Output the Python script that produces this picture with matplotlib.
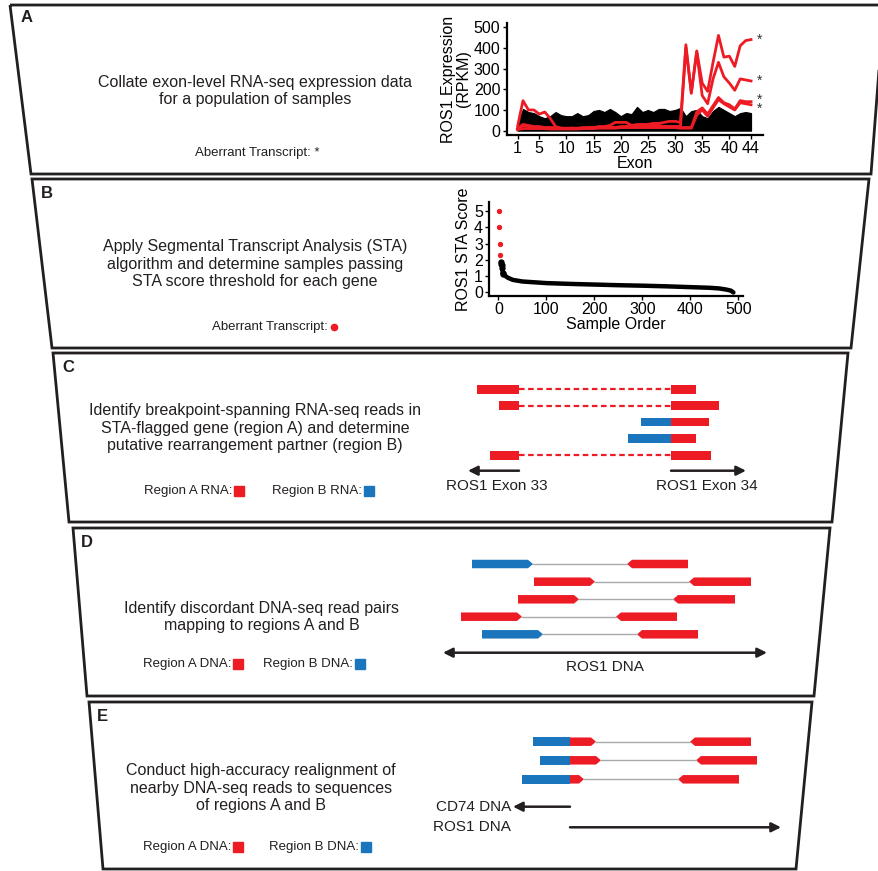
import matplotlib
matplotlib.use('Agg')
import matplotlib.pyplot as plt
from matplotlib.patches import Polygon, Rectangle

plt.rcParams['font.family'] = ['Liberation Sans', 'DejaVu Sans']

RED = '#ed1c24'
BLUE = '#1b75bc'
INK = '#231f20'
GREY = '#a7a9ac'

# ---- Panel A data: exon-level expression (RPKM) ----
exons = list(range(1, 45))
exon_ticks = [1, 5, 10, 15, 20, 25, 30, 35, 40, 44]
black_upper = [30, 105, 90, 85, 70, 60, 70, 90, 75, 70,
               70, 85, 70, 75, 95, 100, 90, 105, 90, 70,
               85, 80, 115, 90, 100, 90, 105, 105, 95, 100,
               110, 70, 95, 100, 70, 60, 95, 115, 100, 85,
               70, 85, 90, 85]
red_1 = [10, 30, 25, 20, 20, 15, 15, 15, 12, 12, 12, 12, 15, 15, 15, 20, 20, 25, 40, 40,
         40, 25, 30, 30, 30, 35, 35, 40, 45, 45, 40,
         415, 180, 385, 230, 190, 330, 460, 355, 360, 310, 410, 435, 440]
red_2 = [20, 145, 100, 100, 80, 90, 60, 20, 12, 10, 12, 10, 10, 12, 15, 15, 15, 15, 15, 15,
         20, 20, 20, 20, 25, 25, 20, 20, 20, 20, 20,
         400, 185, 380, 170, 130, 250, 330, 260, 230, 195, 250, 245, 240]
red_3 = [5, 25, 20, 15, 15, 15, 12, 10, 10, 10, 10, 10, 10, 12, 15, 15, 15, 15, 15, 20,
         20, 20, 20, 20, 25, 25, 25, 20, 20, 20, 15, 15, 15,
         90, 110, 80, 120, 160, 135, 125, 105, 145, 140, 140]
red_4 = [5, 10, 10, 10, 10, 10, 8, 8, 8, 8, 8, 8, 10, 10, 10, 12, 12, 12, 12, 15,
         15, 15, 15, 15, 15, 15, 15, 15, 15, 15, 12, 12, 12,
         75, 100, 70, 110, 150, 130, 115, 100, 135, 130, 125]
star_single_y = [440, 240]
star_pair_y = 128

# ---- Panel B data: STA score by sample order ----
flag_order = [1, 2, 3, 4]
flag_score = [5.0, 4.0, 3.0, 2.3]
rest_order = [5, 6, 7, 8, 9, 10, 15, 20, 30, 50, 75, 100, 150, 200, 250, 300,
              350, 400, 440, 460, 475, 485, 490]
rest_score = [1.85, 1.75, 1.7, 1.5, 1.15, 1.1, 0.98, 0.88, 0.75, 0.65, 0.6, 0.55,
              0.5, 0.46, 0.42, 0.39, 0.35, 0.3, 0.26, 0.22, 0.15, 0.08, -0.03]

# ---- Panel C data: RNA reads (x in page px) ----
c_rows = [389.3, 405.7, 422.0, 438.7, 455.3]
c_left_start = [477, 499, None, None, 490]
c_blue_start = [None, None, 641, 628, None]
c_right_end = [696, 719, 709, 696, 711]
exon33_end = 519
exon34_start = 671

# ---- Panel D data: DNA read pairs ----
d_rows = [564.0, 581.7, 599.3, 616.7, 634.3]
d_first = [(472, 533), (534, 595), (518, 579), (461, 522), (482, 543)]
d_first_col = [BLUE, RED, RED, RED, BLUE]
d_second = [(627, 688), (689, 751), (673, 735), (616, 677), (637, 698)]

# ---- Panel E data: realigned reads ----
e_rows = [741.7, 760.3, 779.3]
e_blue_start = [533, 540, 522]
e_junction = 570
e_red_end = [596, 601, 584]
e_mate = [(690, 751), (696, 757), (678, 739)]

fig = plt.figure(figsize=(8.79, 8.71), dpi=100)
pg = fig.add_axes([0, 0, 1, 1])
pg.set_xlim(0, 879)
pg.set_ylim(871, 0)
pg.axis('off')

# funnel outlines
boxes = [
    (5, 174, 10, 31, 884, 871),
    (179, 348, 32, 52, 869, 851),
    (353, 522, 53, 69, 848, 832),
    (528, 696, 73, 87, 830, 814),
    (702, 869, 89, 103, 812, 796),
]
for top, bot, lt, lb, rt, rb in boxes:
    pg.add_patch(Polygon([(lt, top), (rt, top), (rb, bot), (lb, bot)], closed=True,
                         fill=False, edgecolor=INK, lw=2.0))

letters = [('A', 21, 17), ('B', 41, 193), ('C', 62, 367), ('D', 81, 542), ('E', 97, 716)]
for s, x, y in letters:
    pg.text(x, y, s, fontsize=12, fontweight='bold', ha='left', va='center', color=INK)

main_kw = dict(fontsize=11.5, ha='center', va='center', linespacing=1.2, color=INK)
pg.text(255, 91, 'Collate exon-level RNA-seq expression data\nfor a population of samples', **main_kw)
pg.text(255, 264, 'Apply Segmental Transcript Analysis (STA)\nalgorithm and determine samples passing\n'
        'STA score threshold for each gene', **main_kw)
pg.text(255, 428, 'Identify breakpoint-spanning RNA-seq reads in\nSTA-flagged gene (region A) and determine\n'
        'putative rearrangement partner (region B)', **main_kw)
pg.text(262, 617, 'Identify discordant DNA-seq read pairs\nmapping to regions A and B', **main_kw)
pg.text(261, 788, 'Conduct high-accuracy realignment of\nnearby DNA-seq reads to sequences\nof regions A and B', **main_kw)

small = dict(fontsize=9.5, va='center', color=INK)
pg.text(257, 153, 'Aberrant Transcript: *', ha='center', **small)
pg.text(328, 327, 'Aberrant Transcript:', ha='right', **small)
pg.plot([334], [327], 'o', color=RED, ms=4.5)


def legend_pair(y, sqa, sqb, kind):
    pg.text(sqa - 7, y, f'Region A {kind}:', ha='right', **small)
    pg.plot([sqa], [y], 's', color=RED, ms=7)
    pg.text(sqb - 7, y, f'Region B {kind}:', ha='right', **small)
    pg.plot([sqb], [y], 's', color=BLUE, ms=7)


legend_pair(491, 239, 369, 'RNA')
legend_pair(664, 238, 360, 'DNA')
legend_pair(847, 238, 366, 'DNA')

H = 8.5
TIP = 5


def bar(x0, x1, y, col):
    pg.add_patch(Rectangle((x0, y - H / 2), x1 - x0, H, color=col, lw=0))


def pointed(x0, x1, y, col, right=True):
    if right:
        pts = [(x0, y - H / 2), (x1 - TIP, y - H / 2), (x1, y), (x1 - TIP, y + H / 2), (x0, y + H / 2)]
    else:
        pts = [(x1, y - H / 2), (x0 + TIP, y - H / 2), (x0, y), (x0 + TIP, y + H / 2), (x1, y + H / 2)]
    pg.add_patch(Polygon(pts, closed=True, color=col, lw=0))


def arrow(x0, x1, y, style='-|>'):
    pg.annotate('', xy=(x1, y), xytext=(x0, y),
                arrowprops=dict(arrowstyle=style, color=INK, lw=1.8, mutation_scale=14,
                                shrinkA=0, shrinkB=0))


# Panel C
for y, ls, bs, re in zip(c_rows, c_left_start, c_blue_start, c_right_end):
    if ls is not None:
        bar(ls, exon33_end, y, RED)
        pg.plot([exon33_end, exon34_start], [y, y], color=RED, lw=1.6,
                linestyle=(0, (2.5, 1.6)), solid_capstyle='butt')
    if bs is not None:
        bar(bs, exon34_start, y, BLUE)
    bar(exon34_start, re, y, RED)
arrow(exon33_end, 468, 470.7)
arrow(exon34_start, 746, 470.7)
pg.text(497, 486, 'ROS1 Exon 33', fontsize=11, ha='center', va='center', color=INK)
pg.text(707, 486, 'ROS1 Exon 34', fontsize=11, ha='center', va='center', color=INK)

# Panel D
for y, (a0, a1), col, (b0, b1) in zip(d_rows, d_first, d_first_col, d_second):
    pg.plot([a1, b0], [y, y], color=GREY, lw=1.0)
    pointed(a0, a1, y, col, right=True)
    pointed(b0, b1, y, RED, right=False)
arrow(443, 767, 652.7, style='<|-|>')
pg.text(605, 667, 'ROS1 DNA', fontsize=11, ha='center', va='center', color=INK)

# Panel E
for y, bs, re, (m0, m1) in zip(e_rows, e_blue_start, e_red_end, e_mate):
    pg.plot([re, m0], [y, y], color=GREY, lw=1.0)
    bar(bs, e_junction, y, BLUE)
    pointed(e_junction, re, y, RED, right=True)
    pointed(m0, m1, y, RED, right=False)
arrow(e_junction, 513, 806.7)
arrow(e_junction, 781, 827.3)
pg.text(511, 806.7, 'CD74 DNA', fontsize=11, ha='right', va='center', color=INK)
pg.text(511, 827.3, 'ROS1 DNA', fontsize=11, ha='right', va='center', color=INK)


def classic(ax):
    for side in ('top', 'right'):
        ax.spines[side].set_visible(False)
    for side in ('left', 'bottom'):
        ax.spines[side].set_linewidth(1.6)
        ax.spines[side].set_color('black')
    ax.tick_params(length=3, width=1.0, labelsize=11.5, pad=1.5, colors='black')
    ax.patch.set_alpha(0)


# Panel A chart
axA = fig.add_axes([506.7 / 879, 1 - 135 / 871, 256.3 / 879, 112 / 871])
classic(axA)
axA.fill_between(exons, 0, black_upper, color='black', lw=0.8, edgecolor='black')
for series in (red_4, red_3, red_2, red_1):
    axA.plot(exons, series, color=RED, lw=2.0)
for y in star_single_y:
    axA.text(45.0, y, '*', fontsize=10, ha='left', va='center', color='#333333')
axA.text(45.0, star_pair_y, '*\n*', fontsize=10, ha='left', va='center',
         linespacing=0.55, color='#333333')
axA.set_xlim(-1, 46.2)
axA.set_ylim(-21, 520)
axA.set_xticks(exon_ticks)
axA.set_yticks([0, 100, 200, 300, 400, 500])
axA.set_xlabel('Exon', fontsize=11.5, labelpad=0)
axA.set_ylabel('ROS1 Expression\n(RPKM)', fontsize=11.5, labelpad=2, linespacing=1.0)

# Panel B chart
axB = fig.add_axes([489.3 / 879, 1 - 296 / 871, 253.7 / 879, 94.3 / 871])
classic(axB)
axB.plot(rest_order, rest_score, color='black', lw=3.2, solid_capstyle='round')
axB.plot(rest_order[:6], rest_score[:6], 'o', color='black', ms=3.5)
axB.plot(flag_order, flag_score, 'o', color=RED, ms=2.8)
axB.set_xlim(-19, 510)
axB.set_ylim(-0.25, 5.6)
axB.set_xticks([0, 100, 200, 300, 400, 500])
axB.set_yticks([0, 1, 2, 3, 4, 5])
axB.set_xlabel('Sample Order', fontsize=11.5, labelpad=0)
axB.set_ylabel('ROS1 STA Score', fontsize=11.5, labelpad=2)

fig.savefig('out.png', dpi=100)
